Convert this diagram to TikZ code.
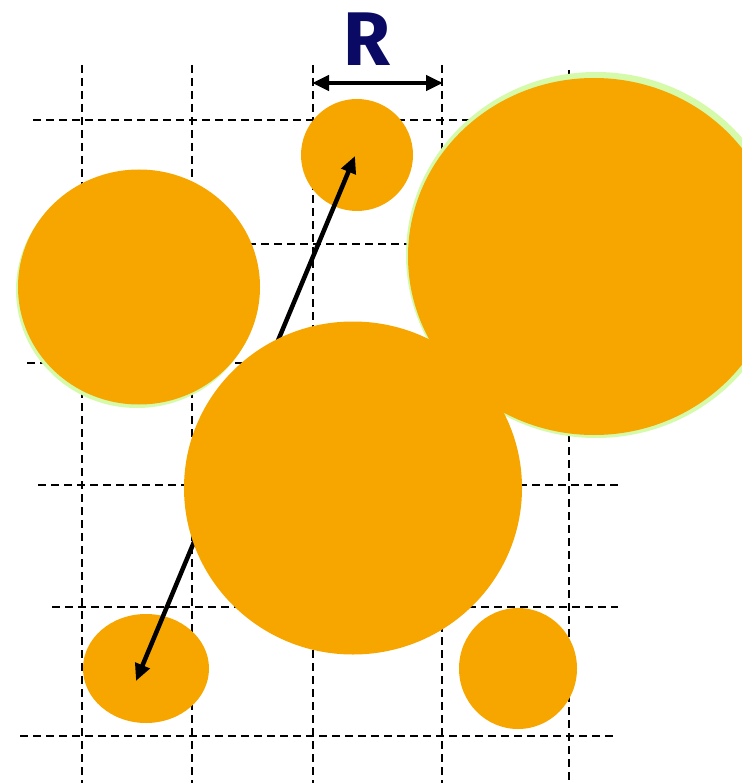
\documentclass[tikz,border=0pt]{standalone}
\usepackage{fontspec}
\setmainfont{Fira Sans}
\usetikzlibrary{arrows.meta}
\definecolor{disc}{RGB}{247,166,0}
\definecolor{halo}{RGB}{212,250,170}
\definecolor{navy}{RGB}{10,10,100}
\tikzset{
  gridline/.style={black, line width=2.2pt, dash pattern=on 8pt off 5pt},
  blob/.style={fill=disc, draw=none},
  glow/.style={fill=halo, draw=none},
  dimarrow/.style={line width=4.5pt, {Triangle[length=17pt,width=15pt]}-{Triangle[length=17pt,width=15pt]}},
  label/.style={text=navy, font=\fontsize{76}{80}\selectfont\bfseries, inner sep=0pt}
}
\begin{document}
\begin{tikzpicture}[x=1pt,y=-1pt]
\useasboundingbox (0,0) rectangle (741,783);
% grid
\draw[gridline] (82,65) -- (82,783);
\draw[gridline] (192,65) -- (192,783);
\draw[gridline] (313,65) -- (313,783);
\draw[gridline] (442,65) -- (442,783);
\draw[gridline] (569,70) -- (569,783);
\draw[gridline] (33,120) -- (618,120);
\draw[gridline] (27,244) -- (618,244);
\draw[gridline] (27,363) -- (618,363);
\draw[gridline] (38,485) -- (618,485);
\draw[gridline] (52,607) -- (618,607);
\draw[gridline] (20,736) -- (614,736);
% halos
\fill[glow] (137,290) ellipse [x radius=121, y radius=118];
\fill[glow] (596,255) ellipse [x radius=190, y radius=183];
% discs
\fill[blob] (357,155) ellipse [x radius=56, y radius=56];
\fill[blob] (139,287) ellipse [x radius=121, y radius=117.5];
\fill[blob] (594,256.5) ellipse [x radius=186, y radius=178.5];
\fill[blob] (146,668.5) ellipse [x radius=63, y radius=54.5];
\fill[blob] (518,668.5) ellipse [x radius=59, y radius=60.5];
% arrow between discs
\coordinate (top) at (355,156);
\coordinate (bot) at (136,681);
\draw[dimarrow] (bot) -- (top);
% big central disc over arrow
\fill[blob] (353,488) ellipse [x radius=169, y radius=166.5];
% R dimension
\coordinate (rl) at (312,83);
\coordinate (rr) at (443,83);
\draw[dimarrow] (rl) -- (rr);
\node[label] (R) at (367,39) {R};
\end{tikzpicture}
\end{document}
